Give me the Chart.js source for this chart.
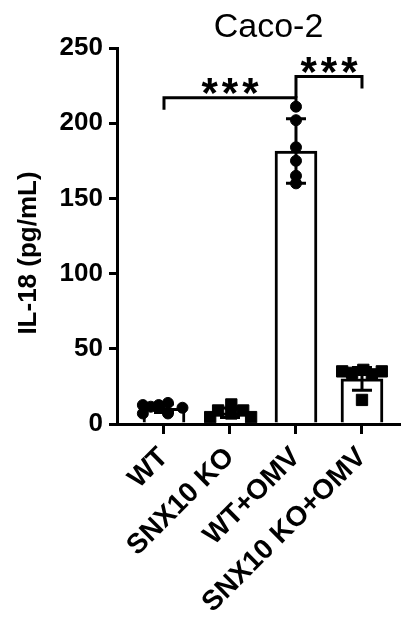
<!DOCTYPE html>
<html>
<head>
<meta charset="utf-8">
<script src="https://cdn.jsdelivr.net/npm/chart.js@4.4.1/dist/chart.umd.min.js"></script>
<style>
  html, body { margin: 0; padding: 0; background: #fff; }
  canvas { display: block; }
</style>
</head>
<body>
<canvas id="il18Chart" width="401" height="621"></canvas>
<script>
// groups on the x axis
var groups = ['WT', 'SNX10 KO', 'WT+OMV', 'SNX10 KO+OMV'];
// bar height (mean) and error bar (SD), pg/mL
var means = [10.5, 7.5, 181.5, 30];
var sds = [2.8, 3.2, 21.5, 7.5];
// replicates per group
var wtPoints = [12.6, 7, 11.5, 12.6, 14, 7, 10.8];
var koPoints = [4.6, 9, 13, 7, 9, 4.6];
var wtOmvPoints = [211, 202, 184, 175, 165, 160];
var koOmvPoints = [35, 34, 36, 33, 35, 16];
// how the replicates are spread sideways in their column (category units)
var wtSpread = [-0.32, -0.32, -0.2, -0.08, 0.06, 0.06, 0.28];
var koSpread = [-0.3, -0.18, 0.02, 0.02, 0.2, 0.32];
var wtOmvSpread = [0, 0, 0, 0, 0, 0];
var koOmvSpread = [-0.3, -0.15, 0.02, 0.15, 0.3, 0];
var yTicks = [0, 50, 100, 150, 200, 250];
// significance brackets (values in pg/mL)
var brackets = [
    { from: 0, to: 2, y: 217, left: 209, right: 211, label: '***' },
    { from: 2, to: 3, y: 231, left: 217, right: 223, label: '***' }
];

var fontFamily = "'Liberation Sans', Arial, sans-serif";

function toPoints(group, values, spread) {
    return values.map(function(v, i) {
        return { x: group + spread[i], y: v };
    });
}

// draws mean +/- SD between the bars and the dots
var errorBarPlugin = {
    id: 'errorBars',
    afterDatasetDraw: function(chart, args) {
        if (args.index !== 0) return;
        var ctx = chart.ctx;
        var xs = chart.scales.x, ys = chart.scales.y;
        ctx.save();
        ctx.strokeStyle = '#000';
        ctx.lineWidth = 3;
        for (var i = 0; i < means.length; i++) {
            var px = xs.getPixelForValue(i);
            var top = ys.getPixelForValue(means[i] + sds[i]);
            var bot = ys.getPixelForValue(means[i] - sds[i]);
            ctx.beginPath();
            ctx.moveTo(px, top); ctx.lineTo(px, bot);
            ctx.moveTo(px - 10, top); ctx.lineTo(px + 10, top);
            ctx.moveTo(px - 10, bot); ctx.lineTo(px + 10, bot);
            ctx.stroke();
        }
        ctx.restore();
    }
};

// title, y label and significance brackets
var annotatePlugin = {
    id: 'annotate',
    afterDraw: function(chart) {
        var ctx = chart.ctx;
        var xs = chart.scales.x, ys = chart.scales.y;
        var area = chart.chartArea;
        ctx.save();
        ctx.fillStyle = '#000';
        ctx.strokeStyle = '#000';
        ctx.lineWidth = 3;

        // brackets
        brackets.forEach(function(b) {
            var x1 = xs.getPixelForValue(b.from);
            var x2 = xs.getPixelForValue(b.to);
            var yb = ys.getPixelForValue(b.y);
            ctx.beginPath();
            ctx.moveTo(x1, ys.getPixelForValue(b.left));
            ctx.lineTo(x1, yb);
            ctx.lineTo(x2, yb);
            ctx.lineTo(x2, ys.getPixelForValue(b.right));
            ctx.stroke();
            ctx.font = 'bold 42px ' + fontFamily;
            ctx.letterSpacing = '4px';
            ctx.textAlign = 'center';
            ctx.textBaseline = 'alphabetic';
            ctx.fillText(b.label, (x1 + x2) / 2 + 2, yb + 9);
        });
        ctx.letterSpacing = '0px';

        // title
        ctx.font = '34px ' + fontFamily;
        ctx.textAlign = 'center';
        ctx.textBaseline = 'alphabetic';
        ctx.fillText('Caco-2', (area.left + area.right) / 2 + 10, 37);

        // y axis title
        ctx.translate(29, (area.top + area.bottom) / 2 + 17);
        ctx.rotate(-Math.PI / 2);
        ctx.font = 'bold 26px ' + fontFamily;
        ctx.textBaseline = 'middle';
        ctx.fillText('IL-18 (pg/mL)', 0, 0);
        ctx.restore();
    }
};

var ctx = document.getElementById('il18Chart').getContext('2d');
var il18Chart = new Chart(ctx, {
    type: 'bar',
    data: {
        datasets: [{
            type: 'bar',
            data: means.map(function(m, i) { return { x: i, y: m }; }),
            backgroundColor: '#fff',
            borderColor: '#000',
            borderWidth: 3,
            barThickness: 42,
            order: 2
        }, {
            type: 'scatter',
            data: toPoints(0, wtPoints, wtSpread),
            pointStyle: 'circle',
            pointRadius: 5.5,
            backgroundColor: '#000',
            borderColor: '#000',
            order: 1
        }, {
            type: 'scatter',
            data: toPoints(1, koPoints, koSpread),
            pointStyle: 'rect',
            pointRadius: 8,
            backgroundColor: '#000',
            borderColor: '#000',
            order: 1
        }, {
            type: 'scatter',
            data: toPoints(2, wtOmvPoints, wtOmvSpread),
            pointStyle: 'circle',
            pointRadius: 5.5,
            backgroundColor: '#000',
            borderColor: '#000',
            order: 1
        }, {
            type: 'scatter',
            data: toPoints(3, koOmvPoints, koOmvSpread),
            pointStyle: 'rect',
            pointRadius: 8,
            backgroundColor: '#000',
            borderColor: '#000',
            order: 1
        }]
    },
    options: {
        responsive: false,
        animation: false,
        layout: { autoPadding: false, padding: { top: 48, right: 1, left: 0, bottom: 0 } },
        plugins: {
            legend: { display: false },
            tooltip: { enabled: false },
            title: { display: false }
        },
        scales: {
            x: {
                type: 'linear',
                offset: false,
                min: -0.712,
                max: 3.576,
                afterBuildTicks: function(s) {
                    s.ticks = groups.map(function(g, i) { return { value: i }; });
                },
                afterFit: function(s) {
                    s.height = 197;
                    s.paddingLeft = 0;
                    s.paddingRight = 0;
                },
                ticks: {
                    callback: function(v) { return groups[v]; },
                    minRotation: 45,
                    maxRotation: 45,
                    color: '#000',
                    font: { family: fontFamily, size: 28, weight: 'bold' },
                    padding: 7
                },
                grid: { offset: false, drawOnChartArea: false, tickLength: 10, lineWidth: 3, color: '#000' },
                border: { color: '#000', width: 3 }
            },
            y: {
                min: 0,
                max: 250,
                afterBuildTicks: function(s) {
                    s.ticks = yTicks.map(function(v) { return { value: v }; });
                },
                afterFit: function(s) { s.width = 117; },
                ticks: { color: '#000', font: { family: fontFamily, size: 26, weight: 'bold' }, padding: 6 },
                grid: { drawOnChartArea: false, tickLength: 8, lineWidth: 3, color: '#000' },
                border: { color: '#000', width: 3 }
            }
        }
    },
    plugins: [errorBarPlugin, annotatePlugin]
});
</script>
</body>
</html>
